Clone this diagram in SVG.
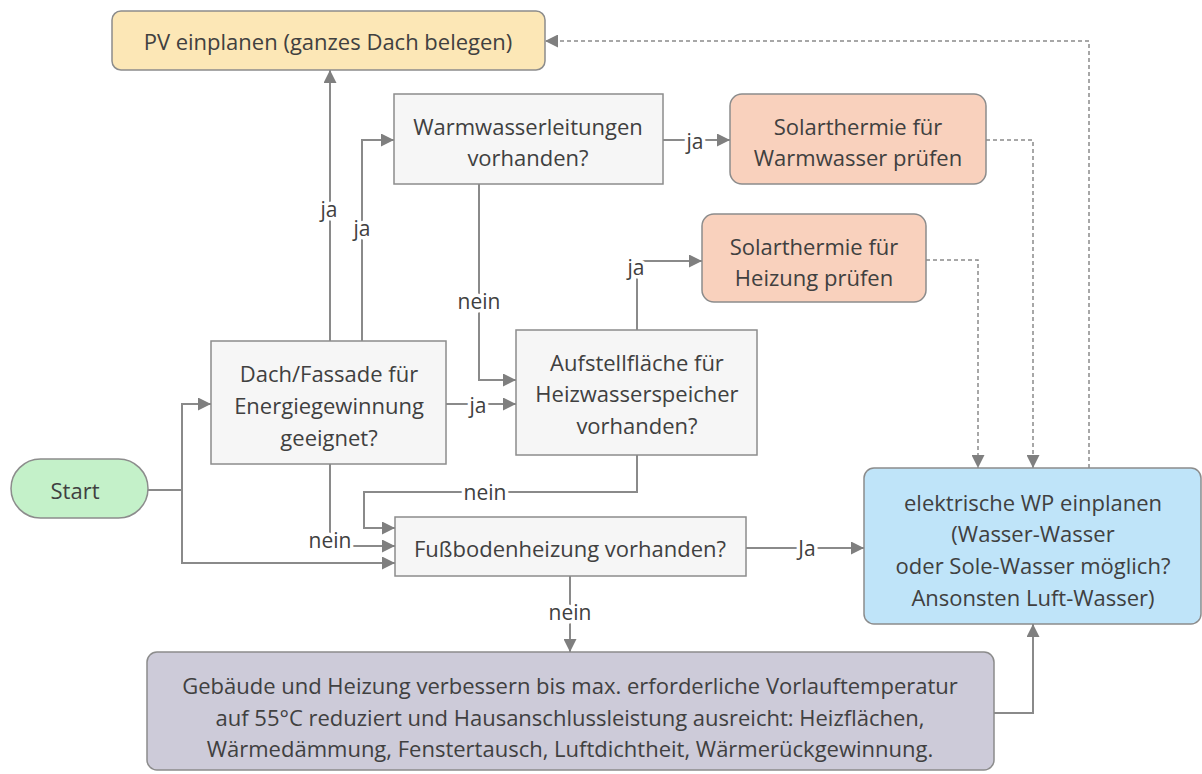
<svg xmlns="http://www.w3.org/2000/svg" width="1202" height="774" viewBox="0 0 1202 774">
<defs>
<marker id="arr" markerUnits="userSpaceOnUse" markerWidth="13" markerHeight="13" refX="13" refY="6.5" orient="auto">
<path d="M0,0 L13,6.5 L0,13 z" fill="#7f7f7f"/>
</marker>
</defs>
<style>
text{font-family:"Open Sans","Liberation Sans",sans-serif;font-size:22px;fill:#404040;text-anchor:middle;dominant-baseline:central}
.box{stroke:#8c8c8c;stroke-width:1.5}
.q{fill:#f6f6f6}
.ln{fill:none;stroke:#8a8a8a;stroke-width:2}
.dash{fill:none;stroke:#8a8a8a;stroke-width:1.5;stroke-dasharray:4 3}
.lbl{font-size:21px;stroke:#ffffff;stroke-width:7px;paint-order:stroke;stroke-linejoin:round}
</style>
<g id="connectors">
<path class="ln" d="M148,490 H182 V404 H211" marker-end="url(#arr)"/>
<path class="ln" d="M182,490 V563 H395" marker-end="url(#arr)"/>
<path class="ln" d="M330,341 V70" marker-end="url(#arr)"/>
<path class="ln" d="M362,341 V140 H394" marker-end="url(#arr)"/>
<path class="ln" d="M446,404 H516" marker-end="url(#arr)"/>
<path class="ln" d="M330,464 V546 H395" marker-end="url(#arr)"/>
<path class="ln" d="M479,184 V380 H516" marker-end="url(#arr)"/>
<path class="ln" d="M663,140 H730" marker-end="url(#arr)"/>
<path class="ln" d="M637,330 V261 H702" marker-end="url(#arr)"/>
<path class="ln" d="M637,455 V492 H364 V528 H395" marker-end="url(#arr)"/>
<path class="ln" d="M746,548 H864" marker-end="url(#arr)"/>
<path class="ln" d="M570,576 V652" marker-end="url(#arr)"/>
<path class="ln" d="M994,713 H1033 V624" marker-end="url(#arr)"/>
<path class="dash" d="M986,140 H1033 V468" marker-end="url(#arr)"/>
<path class="dash" d="M926,260 H978 V468" marker-end="url(#arr)"/>
<path class="dash" d="M1089,468 V41 H545" marker-end="url(#arr)"/>
<text class="lbl" x="329" y="209">ja</text>
<text class="lbl" x="362" y="228">ja</text>
<text class="lbl" x="478" y="405">ja</text>
<text class="lbl" x="479" y="301">nein</text>
<text class="lbl" x="695" y="141">ja</text>
<text class="lbl" x="636" y="267">ja</text>
<text class="lbl" x="330" y="540">nein</text>
<text class="lbl" x="485" y="492">nein</text>
<text class="lbl" x="807" y="548">Ja</text>
<text class="lbl" x="570" y="612">nein</text>
</g>
<g id="pv">
<rect class="box" x="112" y="11" width="433" height="59" rx="9" fill="#fce7b6"/>
<text x="328" y="41">PV einplanen (ganzes Dach belegen)</text>
</g>
<g id="warmwasser">
<rect class="box q" x="394" y="94" width="269" height="90"/>
<text x="528" y="126">Warmwasserleitungen</text>
<text x="528" y="157">vorhanden?</text>
</g>
<g id="solar-ww">
<rect class="box" x="730" y="94" width="256" height="90" rx="12" fill="#f9d1bd"/>
<text x="858" y="126">Solarthermie für</text>
<text x="858" y="157">Warmwasser prüfen</text>
</g>
<g id="solar-heiz">
<rect class="box" x="702" y="214" width="224" height="88" rx="12" fill="#f9d1bd"/>
<text x="814" y="246">Solarthermie für</text>
<text x="814" y="277">Heizung prüfen</text>
</g>
<g id="dach">
<rect class="box q" x="211" y="341" width="235" height="123"/>
<text x="329" y="373">Dach/Fassade für</text>
<text x="329" y="405">Energiegewinnung</text>
<text x="329" y="437">geeignet?</text>
</g>
<g id="aufstell">
<rect class="box q" x="516" y="330" width="241" height="125"/>
<text x="637" y="362">Aufstellfläche für</text>
<text x="637" y="393">Heizwasserspeicher</text>
<text x="637" y="425">vorhanden?</text>
</g>
<g id="start">
<rect class="box" x="11" y="459" width="137" height="59" rx="29.5" fill="#c4f1c9"/>
<text x="75" y="490">Start</text>
</g>
<g id="fussboden">
<rect class="box q" x="395" y="517" width="351" height="59"/>
<text x="570" y="548">Fußbodenheizung vorhanden?</text>
</g>
<g id="wp">
<rect class="box" x="864" y="468" width="337" height="156" rx="10" fill="#bfe4f9"/>
<text x="1033" y="502">elektrische WP einplanen</text>
<text x="1033" y="533">(Wasser-Wasser</text>
<text x="1033" y="565">oder Sole-Wasser möglich?</text>
<text x="1033" y="597">Ansonsten Luft-Wasser)</text>
</g>
<g id="gebaeude">
<rect class="box" x="147" y="652" width="847" height="118" rx="10" fill="#cdcbd9"/>
<text x="570" y="685">Gebäude und Heizung verbessern bis max. erforderliche Vorlauftemperatur</text>
<text x="570" y="717">auf 55°C reduziert und Hausanschlussleistung ausreicht: Heizflächen,</text>
<text x="570" y="748">Wärmedämmung, Fenstertausch, Luftdichtheit, Wärmerückgewinnung.</text>
</g>
</svg>
